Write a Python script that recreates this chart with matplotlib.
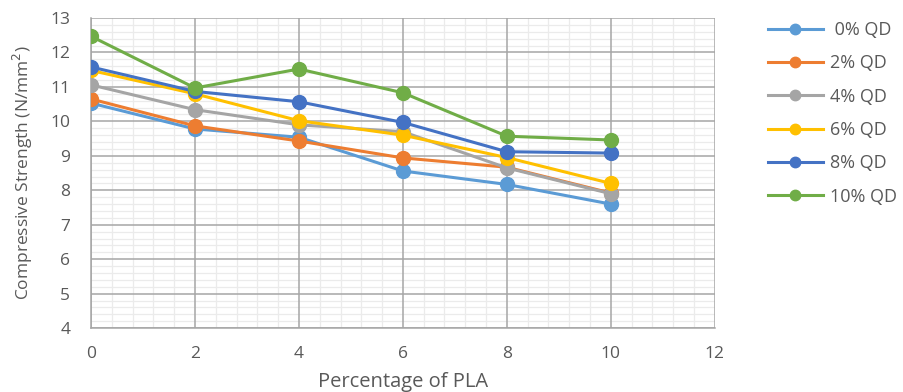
import numpy as np
import matplotlib

matplotlib.use("Agg")
import matplotlib.pyplot as plt
from matplotlib.ticker import MultipleLocator

# data
pla = [0, 2, 4, 6, 8, 10]
labels = [" 0% QD", "2% QD", "4% QD", "6% QD", "8% QD", "10% QD"]
qd0 = [10.53, 9.78, 9.54, 8.56, 8.17, 7.6]
qd2 = [10.65, 9.87, 9.43, 8.94, 8.67, 7.92]
qd4 = [11.06, 10.34, 9.9, 9.7, 8.65, 7.9]
qd6 = [11.48, 10.8, 10.02, 9.6, 8.95, 8.2]
qd8 = [11.58, 10.87, 10.57, 9.97, 9.12, 9.08]
qd10 = [12.47, 10.97, 11.52, 10.83, 9.57, 9.46]
colors = ["#5B9BD5", "#ED7D31", "#A5A5A5", "#FFC000", "#4472C4", "#70AD47"]

plt.rcParams["font.family"] = ["Open Sans", "DejaVu Sans"]
text_color = "#595959"

fig = plt.figure(figsize=(9.04, 3.92), dpi=100)
ax = fig.add_axes([0.1007, 0.163, 0.69, 0.791])

series = [qd0, qd2, qd4, qd6, qd8, qd10]
for vals, lab, col in zip(series, labels, colors):
    ax.plot(pla, vals, color=col, lw=2.2, marker="o", ms=10,
            label=lab, zorder=3)

ax.set_xlim(0, 12)
ax.set_ylim(4, 13)
ax.xaxis.set_major_locator(MultipleLocator(2))
ax.yaxis.set_major_locator(MultipleLocator(1))

# minor grid drawn by hand, below the major grid
for i in range(31):
    if i % 5:
        ax.axvline(i * 0.4, color="#EBEBEB", lw=0.9, zorder=0.1)
for i in range(46):
    if i % 5:
        ax.axhline(4 + i * 0.2, color="#EBEBEB", lw=0.9, zorder=0.1)
ax.set_axisbelow(True)
ax.grid(which="major", color="#A6A6A6", lw=1.1)
for s in ["top", "right"]:
    ax.spines[s].set_visible(False)
for s in ["left", "bottom"]:
    ax.spines[s].set_color("#A6A6A6")
    ax.spines[s].set_linewidth(1.1)
ax.tick_params(which="both", length=0, labelsize=12.5, colors=text_color)
ax.tick_params(axis="x", pad=13)
ax.tick_params(axis="y", pad=15)

ax.set_xlabel("Percentage of PLA", fontsize=14.5, color=text_color, labelpad=7)
ax.set_ylabel("Compressive Strength (N/mm$^2$)", fontsize=12.5,
              color=text_color, labelpad=11)

fig.legend(loc="upper left", bbox_to_anchor=(0.842, 0.965), frameon=False,
           fontsize=13, labelcolor=text_color, handlelength=3.0,
           handletextpad=0.4, labelspacing=0.85, markerscale=0.75,
           borderaxespad=0)

fig.savefig("out.png", dpi=100)
